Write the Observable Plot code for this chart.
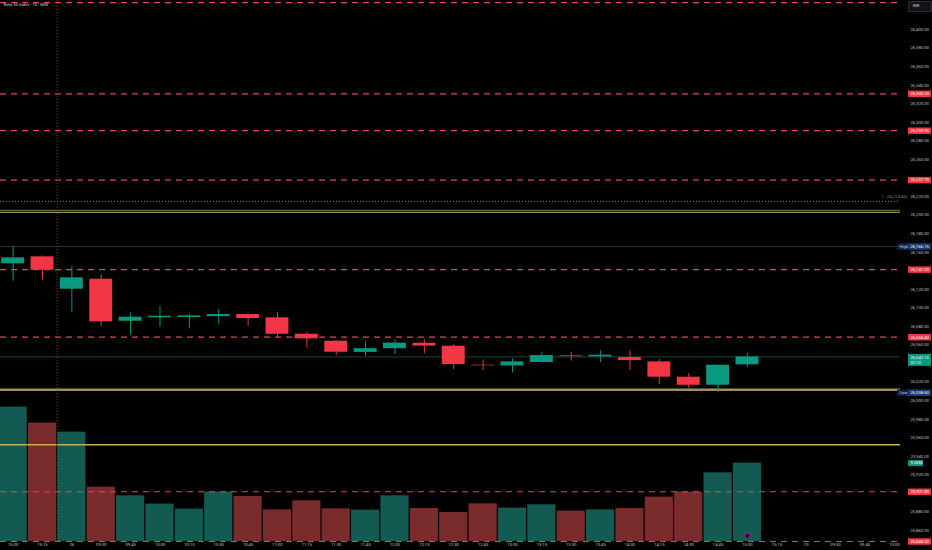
<!DOCTYPE html>
<html>
<head>
<meta charset="utf-8">
<script src="https://cdn.jsdelivr.net/npm/d3@7"></script>
<script src="https://cdn.jsdelivr.net/npm/@observablehq/plot@0.6"></script>
<style>
  body { margin: 0; background: #000; }
  #chart { position: relative; width: 932px; height: 550px; background: #000; overflow: hidden; }
  #chart svg { position: absolute; left: 0; top: 0; }
  #inr { position: absolute; left: 908px; top: 1px; width: 22px; height: 9px; border: 1px solid #2a2e39; background: #131313; border-radius: 1px; }
</style>
</head>
<body>
<div id="chart"><div id="inr"></div></div>
<script>
// 15 min candles, Nifty 50
const timeLabels = ['15:00', '15:15', '26', '09:30', '09:45', '10:00', '10:15', '10:30', '10:45', '11:00', '11:15',
  '11:30', '11:45', '12:00', '12:15', '12:30', '12:45', '13:00', '13:15', '13:30', '13:45', '14:00', '14:15',
  '14:30', '14:45', '15:00', '15:15', '29', '09:30', '09:45', '10:00'];
const opens = [26147.5, 26155.0, 26120.1, 26130.9, 26085.6, 26089.3, 26089.6, 26090.6, 26092.8, 26089.3, 26071.6,
  26064.1, 26052.0, 26056.0, 26061.9, 26058.7, 26038.2, 26037.5, 26041.1, 26048.3, 26047.2, 26046.5, 26041.8,
  26025.3, 26016.6, 26038.6];
const highs = [26166.15, 26156.0, 26144.5, 26135.6, 26094.7, 26101.4, 26093.0, 26098.2, 26093.5, 26094.7, 26073.4,
  26064.5, 26063.4, 26065.6, 26065.6, 26060.3, 26044.0, 26045.0, 26052.0, 26052.1, 26053.7, 26053.7, 26044.3,
  26029.2, 26038.5, 26050.9];
const lows = [26128.7, 26130.2, 26095.3, 26080.2, 26070.7, 26079.2, 26077.4, 26081.7, 26080.2, 26068.0, 26056.8,
  26048.5, 26047.8, 26049.7, 26050.4, 26033.5, 26032.5, 26030.0, 26040.5, 26042.5, 26041.1, 26032.5, 26017.4,
  26013.4, 26008.6, 26035.7];
const closes = [26153.9, 26140.6, 26132.4, 26084.9, 26089.9, 26091.0, 26091.4, 26092.8, 26088.5, 26071.6, 26066.6,
  26052.2, 26056.0, 26062.0, 26058.8, 26038.9, 26037.5, 26041.8, 26048.6, 26047.5, 26049.0, 26043.2, 26025.3,
  26016.6, 26038.2, 26047.15];
const volumes = [16.05, 14.14, 13.06, 6.49, 5.46, 4.47, 3.87, 5.90, 5.37, 3.78, 4.86, 3.90, 3.75, 5.46, 3.94, 3.46,
  4.50, 3.99, 4.38, 3.63, 3.78, 3.94, 5.30, 5.90, 8.20, 9.36];

const priceTicks = d3.range(25860, 26401, 20);
const redLevels = [26429.1, 26330.70, 26290.95, 26237.70, 26141.20, 26068.40, 25901.80, 25848.20];
const redLabels = [26330.70, 26290.95, 26237.70, 26141.20, 26068.40, 25901.80, 25848.20];
const oliveLevels = [26205.1, 26203.0];
const goldLevels = [26011.7, 25952.4];
const highPrice = 26166.15;
const lowPrice = 26008.60;
const lastPrice = 26047.15;
const lastTimer = '02:10';
const markPrice = 26214.85;
const daySplit = [1.5];
const eventBars = [25];

const UP = '#089981', DOWN = '#f23645';
const UP_VOL = '#135a52', DOWN_VOL = '#7a2b2b';
const fmt = d3.format(',.2f');

const candles = opens.map((o, i) => ({
  i, o, h: highs[i], l: lows[i], c: closes[i], v: volumes[i], up: closes[i] >= o
}));

// the scale hides the round labels that sit under a price tag
const tags = [...redLabels, highPrice, lowPrice];
const shownTicks = priceTicks.filter(t =>
  tags.every(g => Math.abs(t - g) > 5) && !(t > lastPrice - 11 && t < lastPrice + 7));

const common = {
  width: 932,
  height: 550,
  marginLeft: 0,
  marginRight: 32,
  marginTop: 0,
  marginBottom: 9,
  style: {background: 'transparent', fontFamily: 'Roboto, sans-serif', color: '#b2b5be'},
  x: {domain: [-0.43, 30.21], axis: null}
};

// volume pane (behind)
const volChart = Plot.plot({
  ...common,
  y: {domain: [0, 64.6], axis: null},
  marks: [
    Plot.rect(candles, {
      x1: d => d.i - 0.48, x2: d => d.i + 0.48, y1: 0, y2: 'v',
      fill: d => d.up ? UP_VOL : DOWN_VOL
    }),
    Plot.dot(eventBars, {x: d => d, y: 0.7, r: 2.6, stroke: '#9c27b0', fill: '#1a0a20', strokeWidth: 1}),
    Plot.tickY([volumes[volumes.length - 1]], {y: d => d, stroke: UP, strokeWidth: 6, insetLeft: 908, insetRight: -23}),
    Plot.text([volumes[volumes.length - 1]], {
      y: d => d, text: d => d3.format('.2f')(d) + 'M', frameAnchor: 'right', dx: 10, textAnchor: 'start',
      fill: 'white', fontSize: 4.2
    })
  ]
});

// price pane (front)
const priceChart = Plot.plot({
  ...common,
  y: {domain: [25848.2, 26431.3]},
  marks: [
    Plot.ruleY([highPrice], {stroke: '#2a2e39', strokeWidth: 1}),
    Plot.ruleY([lastPrice], {stroke: '#17473f', strokeWidth: 1}),
    Plot.ruleY([markPrice], {stroke: '#8a8a8a', strokeWidth: 1, strokeDasharray: '1,2'}),
    Plot.ruleY(oliveLevels, {stroke: (d, i) => i ? '#9a8e52' : '#64663f', strokeWidth: 1.3}),
    Plot.ruleY(goldLevels, {stroke: (d, i) => i ? '#c2ae55' : '#a08f62', strokeWidth: (d, i) => i ? 1.5 : 2.6}),
    Plot.ruleY(redLevels, {stroke: '#e8455c', strokeWidth: 1.2, strokeDasharray: '6,5'}),
    Plot.ruleX(daySplit, {stroke: '#7a4a20', strokeWidth: 1, strokeDasharray: '1,2'}),
    Plot.ruleX(candles, {x: 'i', y1: 'l', y2: 'h', stroke: d => d.up ? UP : DOWN, strokeWidth: 1}),
    Plot.rect(candles, {
      x1: d => d.i - 0.39, x2: d => d.i + 0.39,
      y1: d => Math.min(d.o, d.c), y2: d => Math.max(d.o, d.c),
      fill: d => d.up ? UP : DOWN
    }),
    Plot.axisX({
      ticks: d3.range(timeLabels.length), tickFormat: i => timeLabels[i], tickSize: 0, tickPadding: 1.5,
      fontSize: 4.2, color: '#c0c3ca', label: null
    }),
    Plot.axisY({
      anchor: 'right', ticks: shownTicks, tickFormat: fmt, tickSize: 0, tickPadding: 10,
      fontSize: 4.2, color: '#c0c3ca', label: null
    }),
    // price tags on the scale
    Plot.tickY(redLabels, {y: d => d, stroke: DOWN, strokeWidth: 6.5, insetLeft: 908, insetRight: -31}),
    Plot.text(redLabels, {y: d => d, text: fmt, frameAnchor: 'right', dx: 10, textAnchor: 'start', fill: 'white', fontSize: 4.2}),
    Plot.tickY([highPrice, lowPrice], {y: d => d, stroke: '#0f2447', strokeWidth: 6.5, insetLeft: 897, insetRight: -8}),
    Plot.tickY([highPrice, lowPrice], {y: d => d, stroke: '#1c3b72', strokeWidth: 6.5, insetLeft: 908, insetRight: -31}),
    Plot.text([highPrice, lowPrice], {y: d => d, text: (d, i) => i ? 'Low' : 'High', frameAnchor: 'right', dx: -1, textAnchor: 'start', fill: '#c9d6f5', fontSize: 4.2}),
    Plot.text([highPrice, lowPrice], {y: d => d, text: fmt, frameAnchor: 'right', dx: 10, textAnchor: 'start', fill: 'white', fontSize: 4.2}),
    Plot.tickY([lastPrice], {y: d => d, stroke: UP, strokeWidth: 12, dy: 3, insetLeft: 908, insetRight: -31}),
    Plot.text([lastPrice], {y: d => d, text: d => fmt(d) + '\n' + lastTimer, frameAnchor: 'right', dx: 10, dy: 3, lineHeight: 1.2, textAnchor: 'start', fill: 'white', fontSize: 4.2}),
    Plot.text([markPrice], {y: d => d, text: d => '1  (' + fmt(d) + ')', frameAnchor: 'right', dx: 7, dy: -4.5, textAnchor: 'end', fill: '#8a8d95', fontSize: 4.2}),
    Plot.text(['Nifty 50 Index · 15 · NSE'], {frameAnchor: 'top-left', dx: 3, dy: 3, textAnchor: 'start', fill: '#d1d4dc', fontSize: 4.2}),
    Plot.text(['INR'], {frameAnchor: 'top-right', dx: 12, dy: 3.5, textAnchor: 'start', fill: '#d1d4dc', fontSize: 4.2})
  ]
});

const box = document.getElementById('chart');
box.insertBefore(volChart, box.firstChild);
box.appendChild(priceChart);
</script>
</body>
</html>
